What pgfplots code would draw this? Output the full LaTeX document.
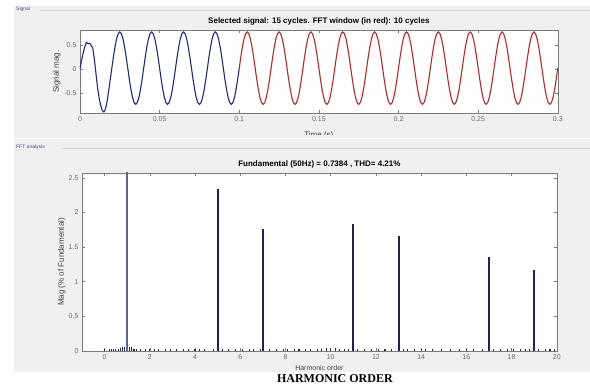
\documentclass[border=0pt]{standalone}
\usepackage{fontspec}
\setmainfont{Liberation Sans}
\newfontfamily\timesfont{Liberation Serif}
\usepackage{pgfplots}
\pgfplotsset{compat=1.18}
\definecolor{panel}{HTML}{F0F0F0}
\definecolor{sigblue}{HTML}{1F2A7A}
\definecolor{sigred}{HTML}{B02A2A}
\definecolor{barblue}{HTML}{1C2455}
\definecolor{fundblue}{HTML}{5A6490}
\definecolor{tickgray}{HTML}{6A6A6A}
\definecolor{boxgray}{HTML}{7A7A7A}
\definecolor{panellabel}{HTML}{3A4A8A}
\pgfplotsset{
  matlab/.style={
    scale only axis,
    axis line style={boxgray},
    tick style={boxgray, line width=0.5pt},
    tick align=inside,
    major tick length=3pt,
    ticklabel style={font=\fontsize{7}{8}\selectfont, text=tickgray},
    /pgf/number format/assume math mode=true,
    label style={font=\fontsize{8}{9}\selectfont, text=black!75},
    title style={font=\fontsize{8}{9}\selectfont\bfseries, at={(0.5,1)}, anchor=south, yshift=-4.5pt},
    scaled ticks=false,
    axis background/.style={fill=white},
  }
}
\begin{document}
\begin{tikzpicture}
\begin{scope}[x=1pt,y=1pt]
\fill[white] (0,0) rectangle (590,387);
\fill[panel] (14,15) rectangle (590,381);
\draw[gray!35] (40,377) -- (590,377);
\node[anchor=west, inner sep=0pt, font=\fontsize{5}{6}\selectfont, text=panellabel] at (16,377.5) {Signal};
\end{scope}

\begin{axis}[matlab,
  at={(80pt,274pt)}, anchor=south west,
  width=478pt, height=83pt,
  xmin=0, xmax=0.3, ymin=-0.92, ymax=0.82,
  xtick={0,0.05,0.1,0.15,0.2,0.25,0.3},
  xticklabels={0,0.05,0.1,0.15,0.2,0.25,0.3},
  ytick={-0.5,0,0.5}, yticklabels={-0.5,0,0.5},
  title={Selected signal: 15 cycles. FFT window (in red): 10 cycles},
  xlabel={Time (s)},
  xlabel style={at={(axis description cs:0.5,0)}, anchor=north, yshift=-15pt},
  ylabel={Signal mag.},
  ylabel style={at={(axis description cs:0,0.5)}, anchor=center, rotate=0, yshift=0pt, xshift=0pt},
  ylabel style={at={(axis description cs:0,0.5)}, anchor=south, yshift=16pt},
]
\addplot[sigblue, line width=1.1pt] coordinates {
(0,0)(0.001,0.18)(0.002,0.34)(0.003,0.46)(0.004,0.56)(0.005,0.53)(0.006,0.54)(0.007,0.50)(0.008,0.44)(0.009,0.22)
(0.010,-0.08)(0.011,-0.38)(0.012,-0.60)(0.013,-0.76)(0.014,-0.87)(0.015,-0.90)(0.016,-0.84)(0.017,-0.68)(0.018,-0.46)(0.019,-0.22)
(0.020,0.02)(0.021,0.255)(0.022,0.467)(0.023,0.635)(0.024,0.743)(0.025,0.78)(0.026,0.743)(0.027,0.635)(0.028,0.467)(0.029,0.255)(0.030,0.02)(0.031,-0.215)(0.032,-0.427)(0.033,-0.595)(0.034,-0.703)(0.035,-0.74)(0.036,-0.703)(0.037,-0.595)(0.038,-0.427)(0.039,-0.215)
(0.040,0.02)(0.041,0.255)(0.042,0.467)(0.043,0.635)(0.044,0.743)(0.045,0.78)(0.046,0.743)(0.047,0.635)(0.048,0.467)(0.049,0.255)(0.050,0.02)(0.051,-0.215)(0.052,-0.427)(0.053,-0.595)(0.054,-0.703)(0.055,-0.74)(0.056,-0.703)(0.057,-0.595)(0.058,-0.427)(0.059,-0.215)
(0.060,0.02)(0.061,0.255)(0.062,0.467)(0.063,0.635)(0.064,0.743)(0.065,0.78)(0.066,0.743)(0.067,0.635)(0.068,0.467)(0.069,0.255)(0.070,0.02)(0.071,-0.215)(0.072,-0.427)(0.073,-0.595)(0.074,-0.703)(0.075,-0.74)(0.076,-0.703)(0.077,-0.595)(0.078,-0.427)(0.079,-0.215)
(0.080,0.02)(0.081,0.255)(0.082,0.467)(0.083,0.635)(0.084,0.743)(0.085,0.78)(0.086,0.743)(0.087,0.635)(0.088,0.467)(0.089,0.255)(0.090,0.02)(0.091,-0.215)(0.092,-0.427)(0.093,-0.595)(0.094,-0.703)(0.095,-0.74)(0.096,-0.703)(0.097,-0.595)(0.098,-0.427)(0.099,-0.215)(0.100,0.02)
};
\addplot[sigred, line width=1.1pt] coordinates {
(0.100,0.02)(0.101,0.255)(0.102,0.467)(0.103,0.635)(0.104,0.743)(0.105,0.78)(0.106,0.743)(0.107,0.635)(0.108,0.467)(0.109,0.255)(0.110,0.02)(0.111,-0.215)(0.112,-0.427)(0.113,-0.595)(0.114,-0.703)(0.115,-0.74)(0.116,-0.703)(0.117,-0.595)(0.118,-0.427)(0.119,-0.215)
(0.120,0.02)(0.121,0.255)(0.122,0.467)(0.123,0.635)(0.124,0.743)(0.125,0.78)(0.126,0.743)(0.127,0.635)(0.128,0.467)(0.129,0.255)(0.130,0.02)(0.131,-0.215)(0.132,-0.427)(0.133,-0.595)(0.134,-0.703)(0.135,-0.74)(0.136,-0.703)(0.137,-0.595)(0.138,-0.427)(0.139,-0.215)
(0.140,0.02)(0.141,0.255)(0.142,0.467)(0.143,0.635)(0.144,0.743)(0.145,0.78)(0.146,0.743)(0.147,0.635)(0.148,0.467)(0.149,0.255)(0.150,0.02)(0.151,-0.215)(0.152,-0.427)(0.153,-0.595)(0.154,-0.703)(0.155,-0.74)(0.156,-0.703)(0.157,-0.595)(0.158,-0.427)(0.159,-0.215)
(0.160,0.02)(0.161,0.255)(0.162,0.467)(0.163,0.635)(0.164,0.743)(0.165,0.78)(0.166,0.743)(0.167,0.635)(0.168,0.467)(0.169,0.255)(0.170,0.02)(0.171,-0.215)(0.172,-0.427)(0.173,-0.595)(0.174,-0.703)(0.175,-0.74)(0.176,-0.703)(0.177,-0.595)(0.178,-0.427)(0.179,-0.215)
(0.180,0.02)(0.181,0.255)(0.182,0.467)(0.183,0.635)(0.184,0.743)(0.185,0.78)(0.186,0.743)(0.187,0.635)(0.188,0.467)(0.189,0.255)(0.190,0.02)(0.191,-0.215)(0.192,-0.427)(0.193,-0.595)(0.194,-0.703)(0.195,-0.74)(0.196,-0.703)(0.197,-0.595)(0.198,-0.427)(0.199,-0.215)
(0.200,0.02)(0.201,0.255)(0.202,0.467)(0.203,0.635)(0.204,0.743)(0.205,0.78)(0.206,0.743)(0.207,0.635)(0.208,0.467)(0.209,0.255)(0.210,0.02)(0.211,-0.215)(0.212,-0.427)(0.213,-0.595)(0.214,-0.703)(0.215,-0.74)(0.216,-0.703)(0.217,-0.595)(0.218,-0.427)(0.219,-0.215)
(0.220,0.02)(0.221,0.255)(0.222,0.467)(0.223,0.635)(0.224,0.743)(0.225,0.78)(0.226,0.743)(0.227,0.635)(0.228,0.467)(0.229,0.255)(0.230,0.02)(0.231,-0.215)(0.232,-0.427)(0.233,-0.595)(0.234,-0.703)(0.235,-0.74)(0.236,-0.703)(0.237,-0.595)(0.238,-0.427)(0.239,-0.215)
(0.240,0.02)(0.241,0.255)(0.242,0.467)(0.243,0.635)(0.244,0.743)(0.245,0.78)(0.246,0.743)(0.247,0.635)(0.248,0.467)(0.249,0.255)(0.250,0.02)(0.251,-0.215)(0.252,-0.427)(0.253,-0.595)(0.254,-0.703)(0.255,-0.74)(0.256,-0.703)(0.257,-0.595)(0.258,-0.427)(0.259,-0.215)
(0.260,0.02)(0.261,0.255)(0.262,0.467)(0.263,0.635)(0.264,0.743)(0.265,0.78)(0.266,0.743)(0.267,0.635)(0.268,0.467)(0.269,0.255)(0.270,0.02)(0.271,-0.215)(0.272,-0.427)(0.273,-0.595)(0.274,-0.703)(0.275,-0.74)(0.276,-0.703)(0.277,-0.595)(0.278,-0.427)(0.279,-0.215)
(0.280,0.02)(0.281,0.255)(0.282,0.467)(0.283,0.635)(0.284,0.743)(0.285,0.78)(0.286,0.743)(0.287,0.635)(0.288,0.467)(0.289,0.255)(0.290,0.02)(0.291,-0.215)(0.292,-0.427)(0.293,-0.595)(0.294,-0.703)(0.295,-0.74)(0.296,-0.703)(0.297,-0.595)(0.298,-0.427)(0.299,-0.215)
(0.300,0.02)
};
\end{axis}

\begin{scope}[x=1pt,y=1pt]
\fill[panel] (14,246) rectangle (590,252);
\fill[white!70!panel] (14,247.5) rectangle (590,249);
\draw[gray!35] (62,239) -- (590,239);
\node[anchor=west, inner sep=0pt, font=\fontsize{5}{6}\selectfont, text=panellabel] at (16,239.5) {FFT analysis};
\end{scope}

\begin{axis}[matlab,
  at={(82pt,36pt)}, anchor=south west,
  width=475pt, height=178pt,
  xmin=-1, xmax=20, ymin=0, ymax=2.57,
  xtick={0,2,4,6,8,10,12,14,16,18,20},
  xticklabels={0,2,4,6,8,10,12,14,16,18,20},
  ytick={0,0.5,1,1.5,2,2.5}, yticklabels={0,0.5,1,1.5,2,2.5},
  title={Fundamental (50Hz) = 0.7384 , THD= 4.21\%},
  xlabel={Harmonic order},
  xlabel style={at={(axis description cs:0.5,0)}, anchor=north, yshift=-13.5pt, font=\fontsize{7}{7}\selectfont, inner sep=0.5pt},
  ylabel={Mag (\% of Fundamental)},
  ylabel style={at={(axis description cs:0,0.5)}, anchor=south, yshift=13pt},
]
\addplot[ycomb, barblue, line width=1.1pt] coordinates {
(0,0.03)(0.2,0.02)(0.3,0.03)(0.4,0.02)(0.5,0.03)(0.6,0.02)(0.7,0.04)(0.8,0.05)(0.9,0.06)(1.1,0.06)(1.2,0.05)(1.3,0.03)(1.4,0.02)(1.6,0.02)(1.8,0.03)(2.0,0.02)(2.2,0.02)(2.4,0.03)(2.7,0.02)(2.9,0.02)(3.2,0.02)(3.5,0.03)(3.7,0.02)(4.0,0.02)(4.2,0.03)(4.4,0.02)(4.8,0.02)(5.2,0.02)(5.5,0.03)(5.8,0.02)(6.1,0.03)(6.4,0.02)(6.6,0.03)(6.9,0.02)(7.3,0.02)(7.6,0.03)(7.9,0.02)(8.1,0.03)(8.4,0.02)(8.6,0.02)(8.9,0.03)(9.1,0.02)(9.4,0.03)(9.6,0.03)(9.8,0.04)(10.0,0.03)(10.2,0.04)(10.4,0.03)(10.6,0.02)(10.8,0.02)(11.2,0.03)(11.5,0.02)(11.8,0.03)(12.1,0.02)(12.4,0.03)(12.7,0.02)(13.2,0.03)(13.4,0.02)(13.7,0.02)(14.0,0.03)(14.2,0.02)(14.5,0.02)(14.9,0.02)(15.3,0.02)(15.7,0.03)(16.0,0.02)(16.3,0.03)(16.7,0.02)(17.2,0.03)(17.5,0.02)(17.8,0.03)(18.1,0.02)(18.4,0.03)(18.6,0.02)(18.8,0.02)(19.2,0.03)(19.5,0.02)(19.7,0.02)(19.9,0.03)
};
\addplot[ycomb, fundblue, line width=2pt] coordinates {(1,100)};
\addplot[ycomb, barblue, line width=2pt] coordinates {
(5,2.34)(7,1.76)(11,1.83)(13,1.66)(17,1.36)(19,1.17)
};
\end{axis}

\begin{scope}[x=1pt,y=1pt]
\fill[white] (14,0) rectangle (590,15);
\node[font=\timesfont\fontsize{12}{13}\selectfont\bfseries, anchor=base] at (335,4) {HARMONIC ORDER};
\end{scope}
\end{tikzpicture}
\end{document}
